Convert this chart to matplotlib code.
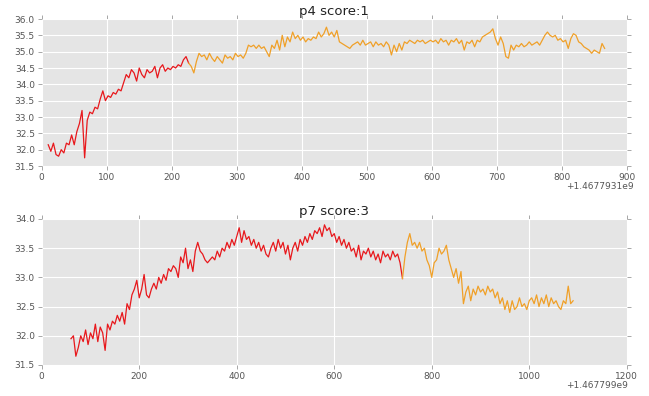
import numpy as np
import matplotlib
matplotlib.use("Agg")
import matplotlib.pyplot as plt

# p4: readings every 4 s starting at t0 (relative to base), red up to p4_split
p4_base = 1467793100
p4_offset_label = '+1.4677931e9'
p4_t0 = 10
p4_step = 4
p4_split = 226
p4_values = [
    32.15, 31.95, 32.2, 31.85, 31.8, 32.0, 31.9, 32.2, 32.15, 32.45,
    32.15, 32.55, 32.8, 33.2, 31.75, 32.9, 33.15, 33.1, 33.3, 33.25,
    33.55, 33.8, 33.5, 33.65, 33.6, 33.75, 33.7, 33.85, 33.8, 34.05,
    34.3, 34.2, 34.45, 34.35, 34.1, 34.5, 34.3, 34.2, 34.45, 34.35,
    34.4, 34.55, 34.2, 34.5, 34.6, 34.4, 34.5, 34.45, 34.55, 34.5,
    34.6, 34.55, 34.75, 34.85, 34.65,
    34.55, 34.35, 34.7, 34.95, 34.85, 34.9, 34.75, 34.95, 34.8,
    34.7, 34.85, 34.75, 34.65, 34.9, 34.8, 34.85, 34.75, 34.95, 34.85,
    34.9, 34.8, 34.95, 35.2, 35.15, 35.2, 35.1, 35.2, 35.1, 35.15,
    35.0, 34.85, 35.2, 35.1, 35.35, 35.05, 35.5, 35.15, 35.45, 35.3,
    35.6, 35.4, 35.5, 35.35, 35.45, 35.3, 35.4, 35.35, 35.45, 35.4,
    35.6, 35.45, 35.55, 35.75, 35.5, 35.6, 35.45, 35.65, 35.3, 35.25,
    35.2, 35.15, 35.1, 35.2, 35.25, 35.3, 35.2, 35.35, 35.2, 35.25,
    35.3, 35.15, 35.3, 35.2, 35.25, 35.15, 35.3, 35.2, 34.9, 35.2,
    35.0, 35.25, 35.05, 35.3, 35.25, 35.35, 35.3, 35.25, 35.35, 35.3,
    35.35, 35.25, 35.3, 35.35, 35.3, 35.35, 35.25, 35.4, 35.3, 35.35,
    35.2, 35.35, 35.3, 35.4, 35.25, 35.35, 35.05, 35.3, 35.25, 35.35,
    35.15, 35.35, 35.3, 35.45, 35.5, 35.55, 35.6, 35.7, 35.4, 35.2,
    35.45, 35.25, 34.85, 34.8, 35.2, 35.05, 35.2, 35.15, 35.25, 35.15,
    35.2, 35.3, 35.2, 35.25, 35.3, 35.2, 35.35, 35.5, 35.6, 35.5,
    35.45, 35.5, 35.35, 35.4, 35.3, 35.35, 35.1, 35.4, 35.55, 35.5,
    35.3, 35.25, 35.15, 35.1, 35.05, 34.95, 35.05, 35.0, 34.95, 35.25,
    35.1,
]

# p7: readings every 5 s starting at t0, red up to p7_split
p7_base = 1467799000
p7_offset_label = '+1.467799e9'
p7_t0 = 60
p7_step = 5
p7_split = 740
p7_values = [
    31.95, 32.0, 31.65, 31.8, 32.0, 31.9, 32.1, 31.85, 32.05, 31.95,
    32.2, 31.9, 32.15, 32.05, 31.75, 32.2, 32.1, 32.25, 32.2, 32.35,
    32.25, 32.4, 32.2, 32.55, 32.45, 32.7, 32.8, 32.95, 32.65, 32.8,
    33.05, 32.7, 32.65, 32.8, 32.9, 32.8, 33.0, 32.9, 33.05, 32.95,
    33.15, 33.1, 33.2, 33.15, 33.0, 33.35, 33.25, 33.5, 33.15, 33.3,
    33.1, 33.45, 33.6, 33.45, 33.4, 33.3, 33.25, 33.3, 33.35, 33.3,
    33.45, 33.35, 33.5, 33.45, 33.6, 33.5, 33.65, 33.55, 33.7, 33.85,
    33.6, 33.8, 33.65, 33.7, 33.55, 33.65, 33.5, 33.6, 33.45, 33.55,
    33.4, 33.35, 33.5, 33.6, 33.45, 33.65, 33.5, 33.6, 33.4, 33.55,
    33.3, 33.5, 33.6, 33.45, 33.65, 33.55, 33.7, 33.6, 33.75, 33.65,
    33.8, 33.75, 33.85, 33.7, 33.9, 33.8, 33.85, 33.7, 33.75, 33.6,
    33.7, 33.55, 33.65, 33.5, 33.6, 33.45, 33.5, 33.35, 33.55, 33.3,
    33.45, 33.4, 33.5, 33.35, 33.45, 33.3, 33.4, 33.25, 33.45, 33.35,
    33.4, 33.3, 33.45, 33.35, 33.4, 33.25, 32.98,
    33.35, 33.6, 33.75, 33.55, 33.6, 33.5, 33.6, 33.45, 33.5, 33.3,
    33.2, 33.0, 33.25, 33.3, 33.5, 33.4, 33.45, 33.55, 33.3, 33.15,
    33.0, 33.15, 32.9, 33.1, 32.55, 32.75, 32.85, 32.6, 32.8, 32.7,
    32.85, 32.75, 32.8, 32.7, 32.85, 32.75, 32.8, 32.65, 32.75, 32.55,
    32.65, 32.45, 32.6, 32.4, 32.6, 32.45, 32.5, 32.65, 32.5, 32.55,
    32.45, 32.6, 32.65, 32.55, 32.7, 32.5, 32.65, 32.55, 32.7, 32.5,
    32.65, 32.55, 32.6, 32.5, 32.45, 32.6, 32.55, 32.85, 32.55, 32.6,
]

panels = [
    ("p4 score:1", p4_base, p4_offset_label, p4_t0, p4_step, p4_split, p4_values, 900, 100, (31.5, 36.0)),
    ("p7 score:3", p7_base, p7_offset_label, p7_t0, p7_step, p7_split, p7_values, 1200, 200, (31.5, 34.0)),
]

plt.rcParams['font.family'] = ['DejaVu Sans']
fig = plt.figure(figsize=(6.49, 3.96), dpi=100)
axes_rects = [[0.0643, 0.5808, 0.9014, 0.3712], [0.0643, 0.0783, 0.9014, 0.3687]]

for rect, (title, base, off_label, t0, step, split, values, xmax, xstep, ylim) in zip(axes_rects, panels):
    ax = fig.add_axes(rect)
    rel = t0 + step * np.arange(len(values))
    vals = np.array(values)
    t = base + rel
    red = rel <= split
    orange = rel >= split
    ax.plot(t[red], vals[red], color='#e8181c', lw=0.9)
    ax.plot(t[orange], vals[orange], color='#f0a028', lw=0.9)
    ax.set_facecolor('#e5e5e5')
    for s in ax.spines.values():
        s.set_visible(False)
    ax.grid(True, color='white', lw=0.8)
    ax.set_axisbelow(True)
    ax.set_xlim(base, base + xmax)
    ax.set_ylim(*ylim)
    ax.set_xticks(base + np.arange(0, xmax + 1, xstep))
    ax.set_xticklabels([str(v) for v in range(0, xmax + 1, xstep)])
    ax.set_yticks(np.arange(ylim[0], ylim[1] + 0.01, 0.5))
    ax.set_yticklabels(['%.1f' % v for v in np.arange(ylim[0], ylim[1] + 0.01, 0.5)])
    ax.tick_params(direction='out', length=3, width=0.6, color='#999999',
                   labelcolor='#555555', labelsize=6.5, top=True, right=True, pad=2)
    ax.set_title(title, fontsize=9.5, color='#222222', pad=3)
    ax.annotate(off_label, xy=(0.896, 0), xycoords='axes fraction',
                xytext=(0, -15), textcoords='offset points',
                ha='left', va='center', fontsize=6.5, color='#555555')

fig.savefig('out.png', dpi=100, facecolor='white')
